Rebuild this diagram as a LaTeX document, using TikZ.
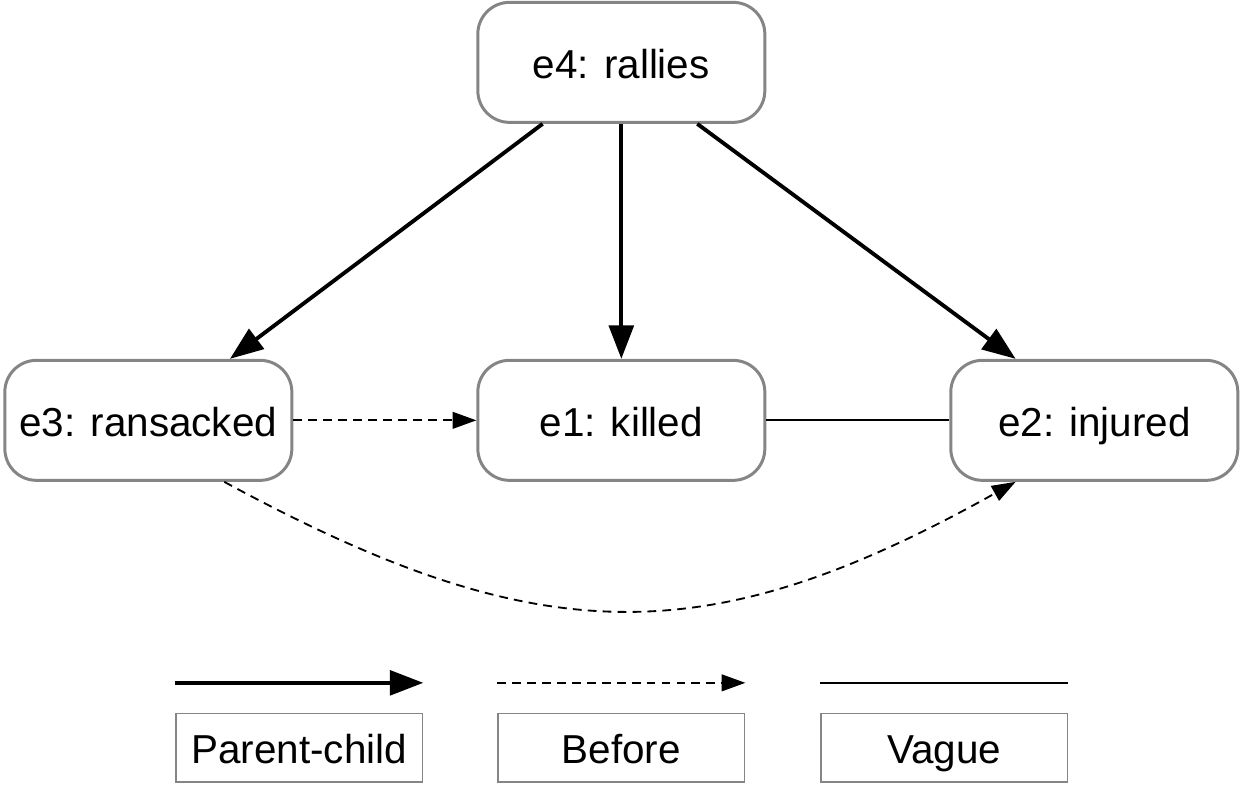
\documentclass[tikz,border=0pt]{standalone}
\usepackage{fontspec}
\setmainfont{Liberation Sans}
\usetikzlibrary{matrix,arrows.meta,positioning,calc}
\tikzset{
    eventNode/.style={rectangle, rounded corners=18pt, draw=black!48, line width=1.7pt, fill=white, font=\fontsize{23}{27}\selectfont, text height=18.4pt, text depth=0pt, minimum width=5.74cm, minimum height=2.4cm},
    legendBox/.style={rectangle, draw=black!48, line width=0.9pt, font=\fontsize{23}{27}\selectfont, text height=17.4pt, text depth=0pt, minimum width=4.93cm, minimum height=1.37cm},
    parentChild/.style={-{Triangle[length=19pt,width=14pt]}, line width=2.2pt},
    beforeOp/.style={-{Triangle[length=13.5pt,width=9.5pt]}, line width=1.05pt, dash pattern=on 5pt off 3.5pt},
    vagueOp/.style={line width=1.05pt}
}

\begin{document}
\begin{tikzpicture}[>=Latex]

\useasboundingbox (0,0) rectangle (24.86,-15.72);

\matrix (m) [column sep=3.66cm, row sep=4.7cm, inner sep=0pt, anchor=north west] at (0.06,-0.01) {
  % Row 0: root event
  & \node[eventNode] (e4) {e4: rallies}; & \\
  % Row 1: child events
  \node[eventNode] (e3) {e3: ransacked}; & \node[eventNode] (e1) {e1: killed}; & \node[eventNode] (e2) {e2: injured}; \\
};

% ----------------------------
% Parent-child arrows
% ----------------------------
\draw[parentChild] (e4.218) -- (e3.37);
\draw[parentChild] (e4.south) -- (e1.north);
\draw[parentChild] (e4.-39) -- (e2.142);

% ----------------------------
% Before / vague relations
% ----------------------------
\draw[beforeOp] (e3.east) -- (e1.west);
\draw[vagueOp] (e1.east) -- (e2.west);
\draw[beforeOp] (e3.-39) .. controls +(6.3,-3.42) and +(-6.16,-3.44) .. (e2.218);

% ----------------------------
% Legend
% ----------------------------
\node[legendBox, below=4.62cm of e1] (lbefore) {Before};
\node[legendBox, left=1.48cm of lbefore] (lparent) {Parent-child};
\node[legendBox, right=1.5cm of lbefore] (lvague) {Vague};

\foreach \l in {lparent,lbefore,lvague} {
  \coordinate (\l-a) at ($(\l.north west)+(0,0.6)$);
  \coordinate (\l-b) at ($(\l.north east)+(0,0.6)$);
}
\draw[parentChild] (lparent-a) -- (lparent-b);
\draw[beforeOp] (lbefore-a) -- (lbefore-b);
\draw[vagueOp] (lvague-a) -- (lvague-b);

\end{tikzpicture}
\end{document}
